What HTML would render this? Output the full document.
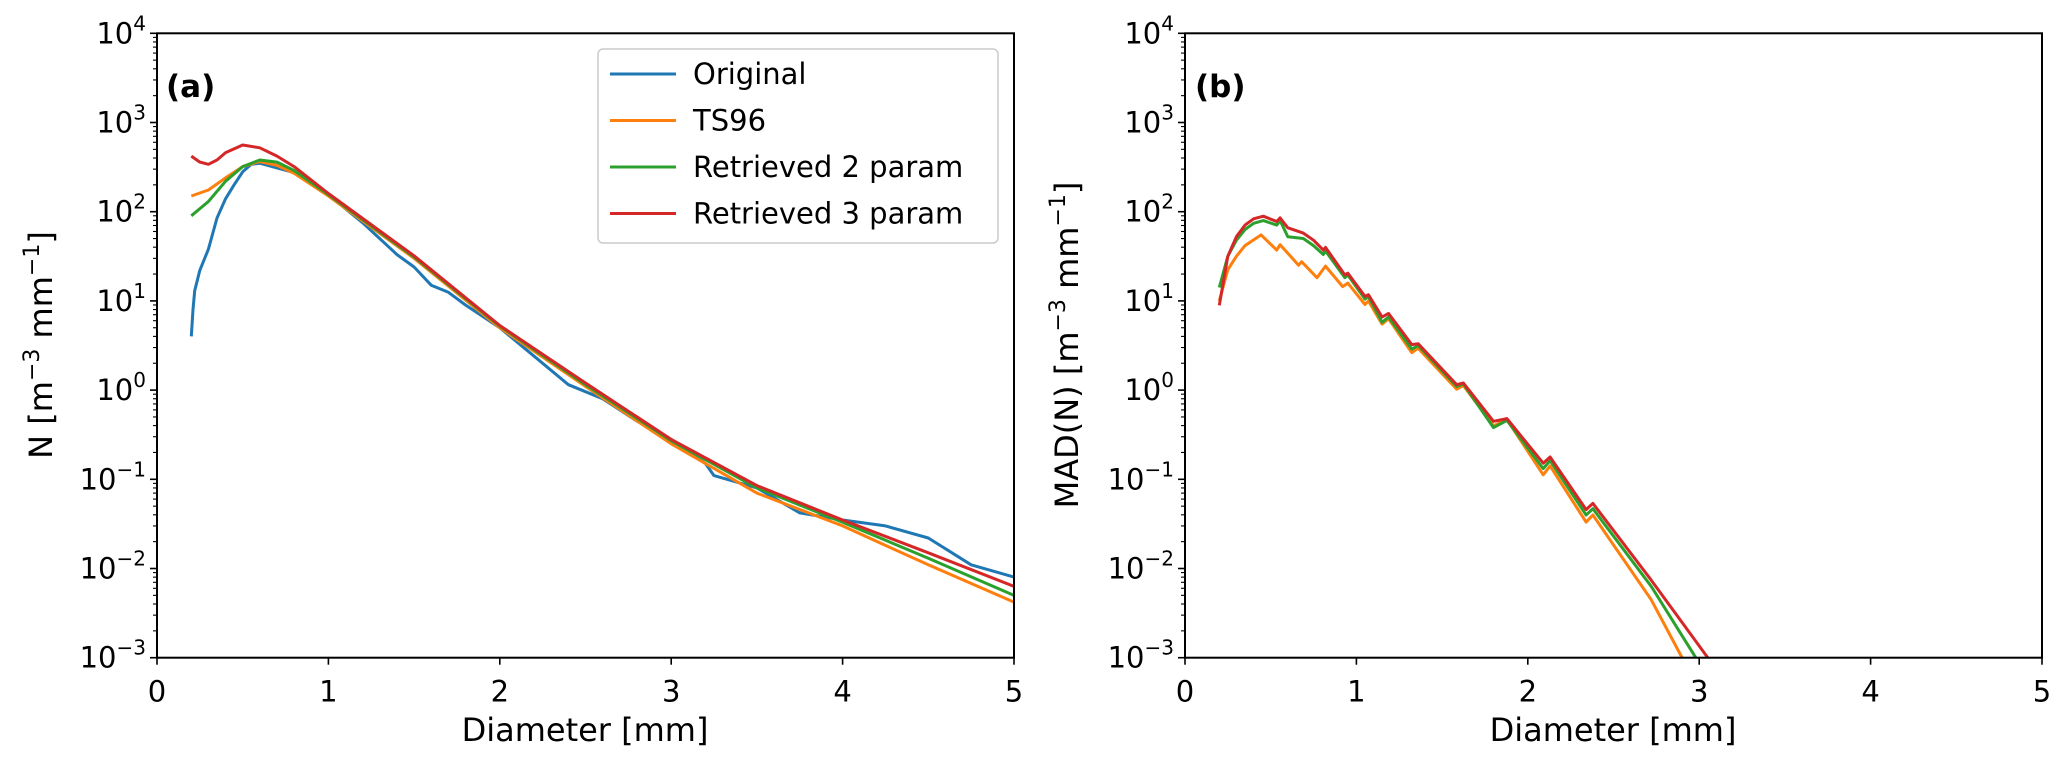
<!DOCTYPE html>
<html><head><meta charset="utf-8"><style>
body{margin:0;background:#fff;}
svg{display:block;font-family:"DejaVu Sans","Liberation Sans",sans-serif;}
</style></head><body>
<svg id="fig" width="2067" height="763" viewBox="0 0 2067 763" xmlns="http://www.w3.org/2000/svg">
<rect width="2067" height="763" fill="#fff"/>
</svg>
<script>
// ---- data: panel (a) ----
const aBlueD=[0.2,0.21,0.22,0.25,0.3,0.35,0.4,0.45,0.5,0.55,0.6,0.7,0.8,0.9,1.0,1.2,1.4,1.5,1.6,1.7,1.8,2.0,2.2,2.4,2.6,2.8,3.0,3.2,3.25,3.5,3.75,4.0,4.25,4.5,4.75,5.0];
const aBlueN=[4,8,13,22,38,85,140,200,280,340,350,310,275,210,155,75,33,24,15,12.5,9,5,2.4,1.15,0.8,0.45,0.28,0.15,0.11,0.08,0.042,0.035,0.03,0.022,0.011,0.008];
const aOrangeD=[0.2,0.3,0.4,0.5,0.6,0.7,0.8,1.0,1.5,2,2.5,3,3.5,4,4.5,5];
const aOrangeN=[150,175,240,320,365,330,270,150,30,5.0,1.1,0.25,0.07,0.03,0.011,0.0042];
const aGreenD=[0.2,0.3,0.4,0.5,0.6,0.7,0.8,1.0,1.5,2,2.5,3,3.5,4,4.5,5];
const aGreenN=[90,130,220,320,380,360,290,155,31,5.2,1.15,0.27,0.08,0.033,0.013,0.005];
const aRedD=[0.2,0.25,0.3,0.35,0.4,0.5,0.6,0.7,0.8,1.0,1.5,2,2.5,3,3.5,4,4.5,5];
const aRedN=[420,360,340,380,460,560,520,420,320,160,32,5.3,1.2,0.28,0.085,0.035,0.015,0.0063];
// ---- data: panel (b), log10 values ----
const bRedD=[0.2,0.25,0.3,0.35,0.4,0.457,0.535,0.555,0.6,0.69,0.75,0.807,0.82,0.933,0.95,1.05,1.07,1.15,1.187,1.323,1.36,1.585,1.624,1.8,1.878,2.09,2.13,2.34,2.38,2.72,3.05];
const bRedLog=[0.95,1.5,1.72,1.85,1.92,1.95,1.89,1.93,1.82,1.76,1.68,1.57,1.6,1.29,1.31,1.05,1.07,0.82,0.86,0.51,0.52,0.06,0.08,-0.35,-0.32,-0.82,-0.75,-1.34,-1.27,-2.13,-3.0];
const bGreenD=[0.2,0.25,0.3,0.35,0.4,0.457,0.535,0.555,0.6,0.69,0.75,0.807,0.82,0.933,0.95,1.05,1.07,1.15,1.187,1.323,1.36,1.585,1.624,1.8,1.878,2.09,2.13,2.34,2.38,2.72,2.98];
const bGreenLog=[1.15,1.5,1.68,1.8,1.87,1.9,1.85,1.9,1.72,1.70,1.62,1.52,1.56,1.26,1.29,1.02,1.05,0.76,0.82,0.46,0.50,0.04,0.07,-0.42,-0.34,-0.88,-0.79,-1.40,-1.33,-2.2,-3.0];
const bOrangeD=[0.2,0.25,0.3,0.35,0.444,0.535,0.555,0.663,0.68,0.77,0.82,0.92,0.95,1.05,1.07,1.15,1.187,1.323,1.36,1.585,1.624,1.8,1.878,2.09,2.13,2.34,2.38,2.72,2.9];
const bOrangeLog=[1.0,1.35,1.5,1.62,1.74,1.57,1.63,1.40,1.44,1.26,1.39,1.16,1.2,0.96,1.0,0.74,0.8,0.42,0.47,0.01,0.05,-0.40,-0.33,-0.95,-0.85,-1.48,-1.40,-2.35,-3.0];
const xTicks=[0,1,2,3,4,5];
const yExps=[-3,-2,-1,0,1,2,3,4];
const legendLabels=["Original","TS96","Retrieved 2 param","Retrieved 3 param"];
const C={blue:"#1f77b4",orange:"#ff7f0e",green:"#2ca02c",red:"#d62728"};

const NS="http://www.w3.org/2000/svg";
const svg=document.getElementById('fig');
function mk(tag,attrs,parent){const e=document.createElementNS(NS,tag);for(const k in attrs)e.setAttribute(k,attrs[k]);(parent||svg).appendChild(e);return e;}
const TOP=33.3,BOT=657.7;
function panel(x0,x1,name){
  const g=mk('g',{});
  
  
  const sx=d=>x0+(x1-x0)*d/5;
  const sy=l=>BOT-(BOT-TOP)*(l+3)/7;
  xTicks.forEach(t=>{
    const ln=mk('line',{x1:sx(t),x2:sx(t),y1:BOT,y2:BOT+7,stroke:'#000','stroke-width':1.6},g);
    
    
    const tx=mk('text',{x:sx(t),y:BOT+44,'font-size':29,'text-anchor':'middle',fill:'#000'},g);
    tx.textContent=t;
    
    
  });
  yExps.forEach(e=>{
    const ln=mk('line',{x1:x0-7,x2:x0,y1:sy(e),y2:sy(e),stroke:'#000','stroke-width':1.6},g);
    
    
    if(e<4){for(let m=2;m<10;m++){const yy=sy(e+Math.log10(m));mk('line',{x1:x0-4,x2:x0,y1:yy,y2:yy,stroke:'#000','stroke-width':1.1},g);}}
    const tx=mk('text',{x:x0-11,y:sy(e)+10,'font-size':29,'text-anchor':'end',fill:'#000'},g);
    
    
    const a=mk('tspan',{},tx);a.textContent='10';
    const b=mk('tspan',{'font-size':20,dy:-13},tx);b.textContent=(e<0?'\u2212':'')+Math.abs(e);
  });
  return {g,sx,sy};
}
function line(p,D,V,isLog,color,name){
  const pts=D.map((d,i)=>p.sx(d).toFixed(1)+','+p.sy(isLog?V[i]:Math.log10(V[i])).toFixed(1)).join(' ');
  const pl=mk('polyline',{points:pts,fill:'none',stroke:color,'stroke-width':3,'stroke-linejoin':'round'},p.g);
  
  
}
const defs=mk('defs',{});
const cpA=mk('clipPath',{id:'ca'},defs);mk('rect',{x:157,y:TOP,width:857,height:BOT-TOP},cpA);
const cpB=mk('clipPath',{id:'cb'},defs);mk('rect',{x:1185,y:TOP,width:857,height:BOT-TOP},cpB);

const pa=panel(157,1014,'panel-a');
const la=mk('g',{'clip-path':'url(#ca)'},pa.g);
const pA={g:la,sx:pa.sx,sy:pa.sy};
line(pA,aBlueD,aBlueN,false,C.blue,'line-original');
line(pA,aOrangeD,aOrangeN,false,C.orange,'line-ts96');
line(pA,aGreenD,aGreenN,false,C.green,'line-retrieved-2-param');
line(pA,aRedD,aRedN,false,C.red,'line-retrieved-3-param');

const pb=panel(1185,2042,'panel-b');
const lb=mk('g',{'clip-path':'url(#cb)'},pb.g);
const pB={g:lb,sx:pb.sx,sy:pb.sy};
line(pB,bOrangeD,bOrangeLog,true,C.orange,'mad-line-ts96');
line(pB,bGreenD,bGreenLog,true,C.green,'mad-line-retrieved-2-param');
line(pB,bRedD,bRedLog,true,C.red,'mad-line-retrieved-3-param');

[[157,1014,'plot-frame-a'],[1185,2042,'plot-frame-b']].forEach(f=>{
  const r=mk('rect',{x:f[0],y:TOP,width:f[1]-f[0],height:BOT-TOP,fill:'none',stroke:'#000','stroke-width':2});
  
  
});
let t=mk('text',{x:166,y:97,'font-size':31,'font-weight':'bold',fill:'#000'});t.textContent='(a)';


t=mk('text',{x:1195,y:97,'font-size':31,'font-weight':'bold',fill:'#000'});t.textContent='(b)';


t=mk('text',{x:585,y:741,'font-size':32,'text-anchor':'middle',fill:'#000'});t.textContent='Diameter [mm]';


t=mk('text',{x:1613,y:741,'font-size':32,'text-anchor':'middle',fill:'#000'});t.textContent='Diameter [mm]';


function ylab(x,txt,name){
  const e=mk('text',{x:0,y:0,'font-size':32,'text-anchor':'middle',fill:'#000',transform:`translate(${x},345) rotate(-90)`});
  
  
  const s1=mk('tspan',{},e);s1.textContent=txt+' [m';
  const s2=mk('tspan',{'font-size':22,dy:-13},e);s2.textContent='\u22123';
  const s3=mk('tspan',{dy:13},e);s3.textContent=' mm';
  const s4=mk('tspan',{'font-size':22,dy:-13},e);s4.textContent='\u22121';
  const s5=mk('tspan',{dy:13},e);s5.textContent=']';
}
ylab(52,'N','y-axis-title-a');
ylab(1078,'MAD(N)','y-axis-title-b');
const lg=mk('g',{});


mk('rect',{x:598,y:49,width:400,height:194,rx:5,fill:'#fff',stroke:'#ccc','stroke-width':1.5},lg);
const lc=[C.blue,C.orange,C.green,C.red];
legendLabels.forEach((lab,i)=>{
  const y=74+i*46.5;
  const ent=mk('g',{},lg);
  
  
  mk('line',{x1:610,x2:676,y1:y,y2:y,stroke:lc[i],'stroke-width':3},ent);
  const tx=mk('text',{x:693,y:y+10,'font-size':29,fill:'#000'},ent);tx.textContent=lab;
});
</script>
</body></html>
